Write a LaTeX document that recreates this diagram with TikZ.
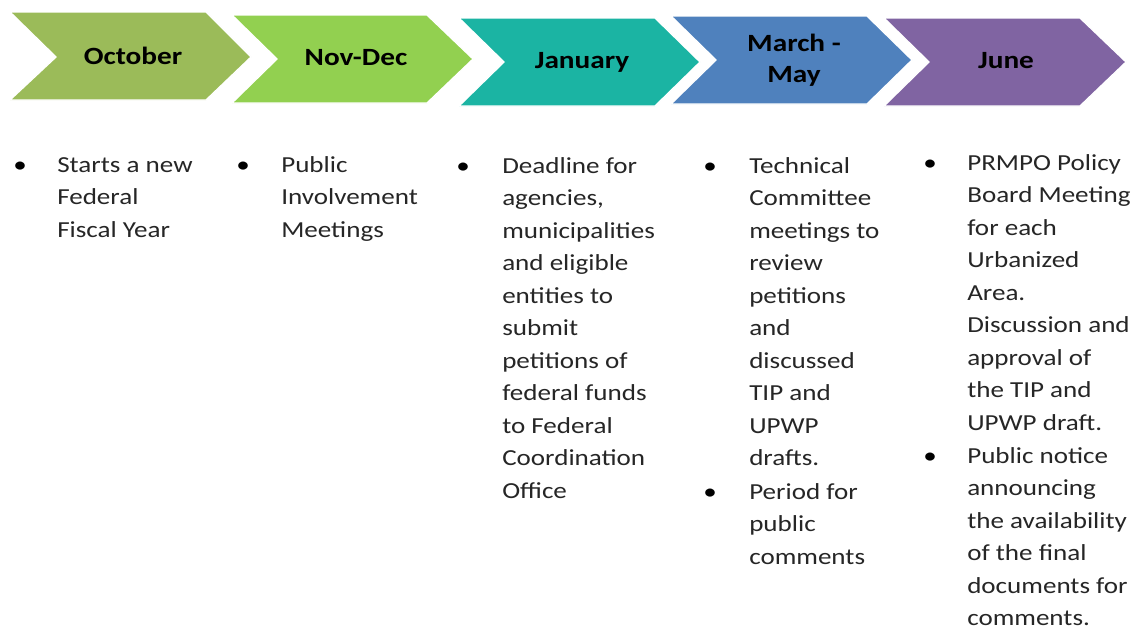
\documentclass[tikz,border=0pt]{standalone}
\usepackage{fontspec}
\setmainfont{Carlito}[FakeStretch=1.18]
\usepackage{xcolor}
\usepackage{tikz}
\definecolor{octGreen}{HTML}{9BBB59}
\definecolor{novGreen}{HTML}{92D050}
\definecolor{janTeal}{HTML}{1BB4A3}
\definecolor{marBlue}{HTML}{4F81BD}
\definecolor{junPurple}{HTML}{8064A2}
\definecolor{bodyText}{HTML}{262626}

\tikzset{
    month/.style={font=\bfseries\fontsize{18.6}{23}\selectfont, align=center, text=black, inner sep=0pt},
    itemtext/.style={anchor=base west, inner sep=0pt, text=bodyText, font=\fontsize{17.2}{24.4}\selectfont},
    dot/.style={anchor=base, inner sep=0pt, text=black, font=\fontsize{17.2}{24.4}\selectfont}
}
\newcommand{\itemlines}[1]{\parbox[t]{60mm}{\raggedright #1}}

\begin{document}
\begin{tikzpicture}[x=0.75pt, y=-0.75pt]
    \useasboundingbox (0,0) rectangle (1138,632);
    \fill[white] (0,0) rectangle (1138,632);

    \fill[octGreen, draw=white, line width=1pt] (10,12) -- (206,12) -- (251,57) -- (206,100) -- (10,100) -- (56,57) -- cycle;
    \fill[novGreen, draw=white, line width=1pt] (232,15) -- (427,15) -- (473,59) -- (427,103) -- (232,103) -- (277,59) -- cycle;
    \fill[janTeal, draw=white, line width=1pt] (459,18) -- (655,18) -- (700,62) -- (655,106) -- (459,106) -- (504,62) -- cycle;
    \fill[marBlue, draw=white, line width=1pt] (671,16) -- (867,16) -- (912,60) -- (867,104) -- (671,104) -- (716,60) -- cycle;
    \fill[junPurple, draw=white, line width=1pt] (884,18) -- (1080,18) -- (1126,62) -- (1080,106) -- (884,106) -- (929,62) -- cycle;

    \node[month] (oct) at (133,56) {October};
    \node[month] (novdec) at (356,58) {Nov-Dec};
    \node[month] (jan) at (582,62) {January};
    \node[month] (marmay) at (794,60) {March -\\May};
    \node[month] (jun) at (1006,61) {June};

    \node[dot] (octdot) at (20,172) {\textbullet};
    \node[itemtext] (octitem) at (57,172) {\itemlines{Starts a new\\Federal\\Fiscal Year}};

    \node[dot] (novdot) at (243,172) {\textbullet};
    \node[itemtext] (novitem) at (281,172) {\itemlines{Public\\Involvement\\Meetings}};

    \node[dot] (jandot) at (463,173) {\textbullet};
    \node[itemtext] (janitem) at (502,173) {\itemlines{Deadline for\\agencies,\\municipalities\\and eligible\\entities to\\submit\\petitions of\\federal funds\\to Federal\\Coordination\\Office}};

    \node[dot] (mardot) at (710,173) {\textbullet};
    \node[itemtext] (maritem) at (749,173) {\itemlines{Technical\\Committee\\meetings to\\review\\petitions\\and\\discussed\\TIP and\\UPWP\\drafts.}};
    \node[dot] (mardotb) at (710,499) {\textbullet};
    \node[itemtext] (maritemb) at (749,499) {\itemlines{Period for\\public\\comments}};

    \node[dot] (jundot) at (930,170) {\textbullet};
    \node[itemtext] (junitem) at (967,170) {\itemlines{PRMPO Policy\\Board Meeting\\for each\\Urbanized\\Area.\\Discussion and\\approval of\\the TIP and\\UPWP draft.}};
    \node[dot] (jundotb) at (930,463) {\textbullet};
    \node[itemtext] (junitemb) at (967,463) {\itemlines{Public notice\\announcing\\the availability\\of the final\\documents for\\comments.}};
\end{tikzpicture}
\end{document}
